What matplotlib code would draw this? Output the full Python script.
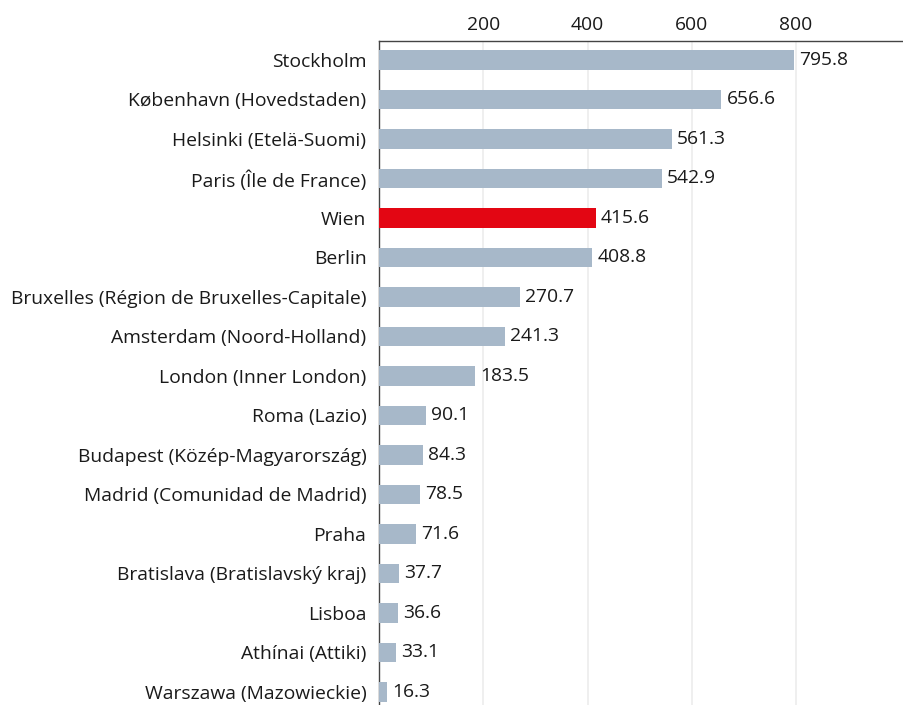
import matplotlib
matplotlib.use("Agg")
import matplotlib.pyplot as plt

regions = ["Stockholm", "København (Hovedstaden)", "Helsinki (Etelä-Suomi)",
           "Paris (Île de France)", "Wien", "Berlin",
           "Bruxelles (Région de Bruxelles-Capitale)", "Amsterdam (Noord-Holland)",
           "London (Inner London)", "Roma (Lazio)", "Budapest (Közép-Magyarország)",
           "Madrid (Comunidad de Madrid)", "Praha", "Bratislava (Bratislavský kraj)",
           "Lisboa", "Athínai (Attiki)", "Warszawa (Mazowieckie)"]
values = [795.8, 656.6, 561.3, 542.9, 415.6, 408.8, 270.7, 241.3, 183.5,
          90.1, 84.3, 78.5, 71.6, 37.7, 36.6, 33.1, 16.3]
highlight = "Wien"
xticks = [200, 400, 600, 800]

plt.rcParams['font.family'] = ['Open Sans', 'DejaVu Sans']
FS = 13.9
fig = plt.figure(figsize=(9.04, 7.05), dpi=100)
ax = fig.add_axes([379/904, 0.0, 1 - 379/904, 1 - 41/705])

ypos = list(range(len(regions)))
colors = ["#e30613" if r == highlight else "#a7b8c9" for r in regions]
ax.barh(ypos, values, height=0.5, color=colors, zorder=3)
for y, v in zip(ypos, values):
    ax.text(v + 10, y, f"{v:.1f}", va="center", ha="left", fontsize=FS, color="#1a1a1a")

ax.set_yticks(ypos)
ax.set_yticklabels(regions, fontsize=FS, color="#1a1a1a")
ax.set_xticks(xticks)
ax.set_xticklabels([str(t) for t in xticks], fontsize=FS, color="#1a1a1a")
ax.xaxis.tick_top()
ax.tick_params(axis="both", length=0, pad=5)
ax.tick_params(axis="y", pad=9)
ax.set_xlim(0, 1007)
ax.set_ylim(16.33, -0.48)
ax.grid(axis="x", color="#ececec", linewidth=1.2, zorder=0)
for s in ["right", "bottom"]:
    ax.spines[s].set_visible(False)
for s in ["left", "top"]:
    ax.spines[s].set_color("#444444")
    ax.spines[s].set_linewidth(1.0)

fig.savefig("out.png", dpi=100)
